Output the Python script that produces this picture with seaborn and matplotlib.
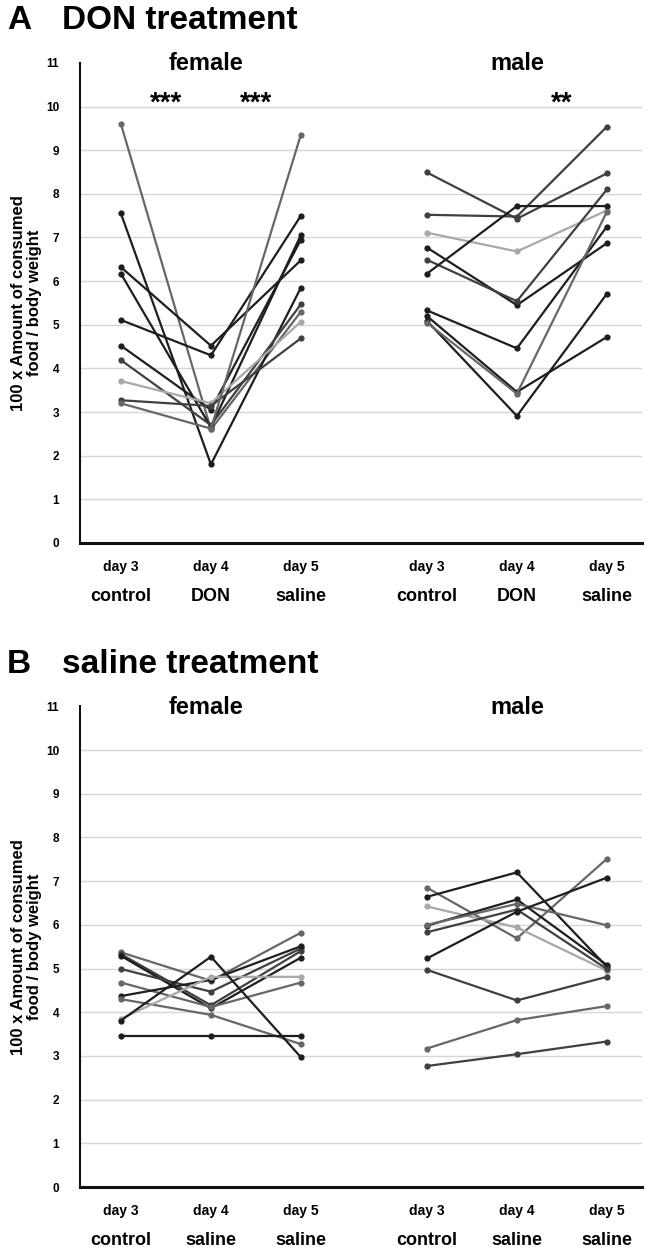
import numpy as np
import pandas as pd
import seaborn as sns
import matplotlib.pyplot as plt

# values per mouse: [day 3, day 4, day 5]
days = ['day 3', 'day 4', 'day 5']
don_conditions = ['control', 'DON', 'saline']
sal_conditions = ['control', 'saline', 'saline']

don_female = [[9.60, 2.60, 5.30], [7.55, 1.80, 5.85], [6.32, 4.52, 6.48],
              [5.11, 4.30, 7.50], [6.17, 2.65, 7.06], [4.52, 3.05, 6.95],
              [4.19, 2.70, 5.47], [3.71, 3.20, 5.07], [3.27, 3.14, 4.69],
              [3.20, 2.62, 9.36]]
don_female_shade = ['m', 'k', 'k', 'k', 'k', 'k', 'd', 'l', 'd', 'm']

don_male = [[8.49, 7.43, 8.47], [7.52, 7.48, 9.54], [7.11, 6.68, 7.62],
            [6.77, 5.45, 6.87], [6.49, 5.54, 8.10], [6.17, 7.72, 7.72],
            [5.33, 4.46, 7.25], [5.20, 3.46, 4.72], [5.09, 2.91, 5.71],
            [5.05, 3.42, 7.59]]
don_male_shade = ['d', 'd', 'l', 'k', 'd', 'k', 'k', 'k', 'k', 'm']

sal_female = [[5.37, 4.72, 5.82], [5.33, 4.16, 5.40], [5.29, 4.09, 5.25],
              [4.99, 4.47, 5.46], [4.68, 4.12, 4.68], [4.37, 4.74, 5.51],
              [4.30, 3.94, 3.27], [3.85, 4.81, 4.81], [3.81, 5.27, 2.97],
              [3.46, 3.46, 3.46]]
sal_female_shade = ['m', 'd', 'k', 'd', 'm', 'k', 'm', 'l', 'k', 'k']

sal_male = [[6.85, 5.69, 7.51], [6.64, 7.20, 5.04], [6.42, 5.94, 4.95],
            [5.98, 6.58, 5.08], [6.00, 6.48, 5.99], [5.83, 6.35, 4.99],
            [5.23, 6.30, 7.08], [4.97, 4.27, 4.81], [3.17, 3.82, 4.14],
            [2.77, 3.04, 3.33]]
sal_male_shade = ['m', 'k', 'l', 'k', 'm', 'd', 'k', 'd', 'm', 'd']

shades = {'k': '#1e1e1e', 'd': '#404040', 'm': '#676767', 'l': '#a8a8a8'}
f_pos = [0, 1, 2]
m_pos = [3.4, 4.4, 5.4]

sns.set_theme(style='white')
plt.rcParams['font.family'] = ['Liberation Sans', 'DejaVu Sans']
plt.rcParams['font.weight'] = 'bold'
plt.rcParams['text.color'] = 'black'
plt.rcParams['axes.labelcolor'] = 'black'
plt.rcParams['ytick.color'] = 'black'
plt.rcParams['xtick.color'] = 'black'

fig = plt.figure(figsize=(6.46, 12.49), dpi=100)
ax_a = fig.add_axes([0.1238, 0.5653, 0.870, 0.3843])
ax_b = fig.add_axes([0.1238, 0.0496, 0.870, 0.3849])


def draw_panel(ax, female, female_shade, male, male_shade, conditions, stars):
    rows = []
    pal = {}
    for tag, group, shade, pos in [('f', female, female_shade, f_pos),
                                   ('m', male, male_shade, m_pos)]:
        for i, (vals, s) in enumerate(zip(group, shade)):
            mid = f'{tag}{i}'
            pal[mid] = shades[s]
            for x, v in zip(pos, vals):
                rows.append({'mouse': mid, 'x': x, 'value': v})
    df = pd.DataFrame(rows)
    sns.lineplot(data=df, x='x', y='value', hue='mouse', palette=pal,
                 estimator=None, sort=False, marker='o', markersize=4.5,
                 markeredgewidth=0, linewidth=1.6, legend=False, ax=ax)

    ax.set_ylim(0, 11)
    ax.set_xlim(-0.455, 5.79)
    ax.set_yticks(range(12))
    ax.set_yticklabels([str(i) for i in range(12)], fontsize=8.5, fontweight='bold')
    for yv in range(1, 11):
        ax.axhline(yv, color='#d6d6d6', lw=1.0, zorder=0)
    ax.tick_params(axis='y', length=0, pad=15)
    ax.set_xticks([])
    ax.set_xlabel('')
    ax.set_ylabel('100 x Amount of consumed\nfood / body weight',
                  fontsize=12, fontweight='bold', linespacing=1.05)
    ax.yaxis.set_label_coords(-0.068, 0.5)
    for side in ['top', 'right']:
        ax.spines[side].set_visible(False)
    ax.spines['left'].set_color('#111111')
    ax.spines['left'].set_linewidth(1.5)
    ax.spines['bottom'].set_color('#111111')
    ax.spines['bottom'].set_linewidth(2.2)

    trans = ax.get_xaxis_transform()
    for pos in (f_pos, m_pos):
        for x, d, c in zip(pos, days, conditions):
            ax.text(x, -0.05, d, transform=trans, ha='center', va='center',
                    fontsize=10, fontweight='bold')
            ax.text(x, -0.112, c, transform=trans, ha='center', va='center',
                    fontsize=13, fontweight='bold')

    ax.text(np.mean(f_pos) - 0.06, 10.98, 'female', ha='center', va='center',
            fontsize=17, fontweight='bold')
    ax.text(np.mean(m_pos), 10.98, 'male', ha='center', va='center',
            fontsize=17, fontweight='bold')
    for x, s in stars:
        ax.text(x, 10.07, s, ha='center', va='center', fontsize=20,
                fontweight='bold')


draw_panel(ax_a, don_female, don_female_shade, don_male, don_male_shade,
           don_conditions, [(0.5, '***'), (1.5, '***'), (4.9, '**')])
draw_panel(ax_b, sal_female, sal_female_shade, sal_male, sal_male_shade,
           sal_conditions, [])

fig.text(0.011, 0.9768, 'A', fontsize=24, fontweight='bold', va='baseline')
fig.text(0.096, 0.9768, 'DON treatment', fontsize=24, fontweight='bold', va='baseline')
fig.text(0.011, 0.4612, 'B', fontsize=24, fontweight='bold', va='baseline')
fig.text(0.096, 0.4612, 'saline treatment', fontsize=24, fontweight='bold', va='baseline')

fig.savefig('out.png', dpi=100)
